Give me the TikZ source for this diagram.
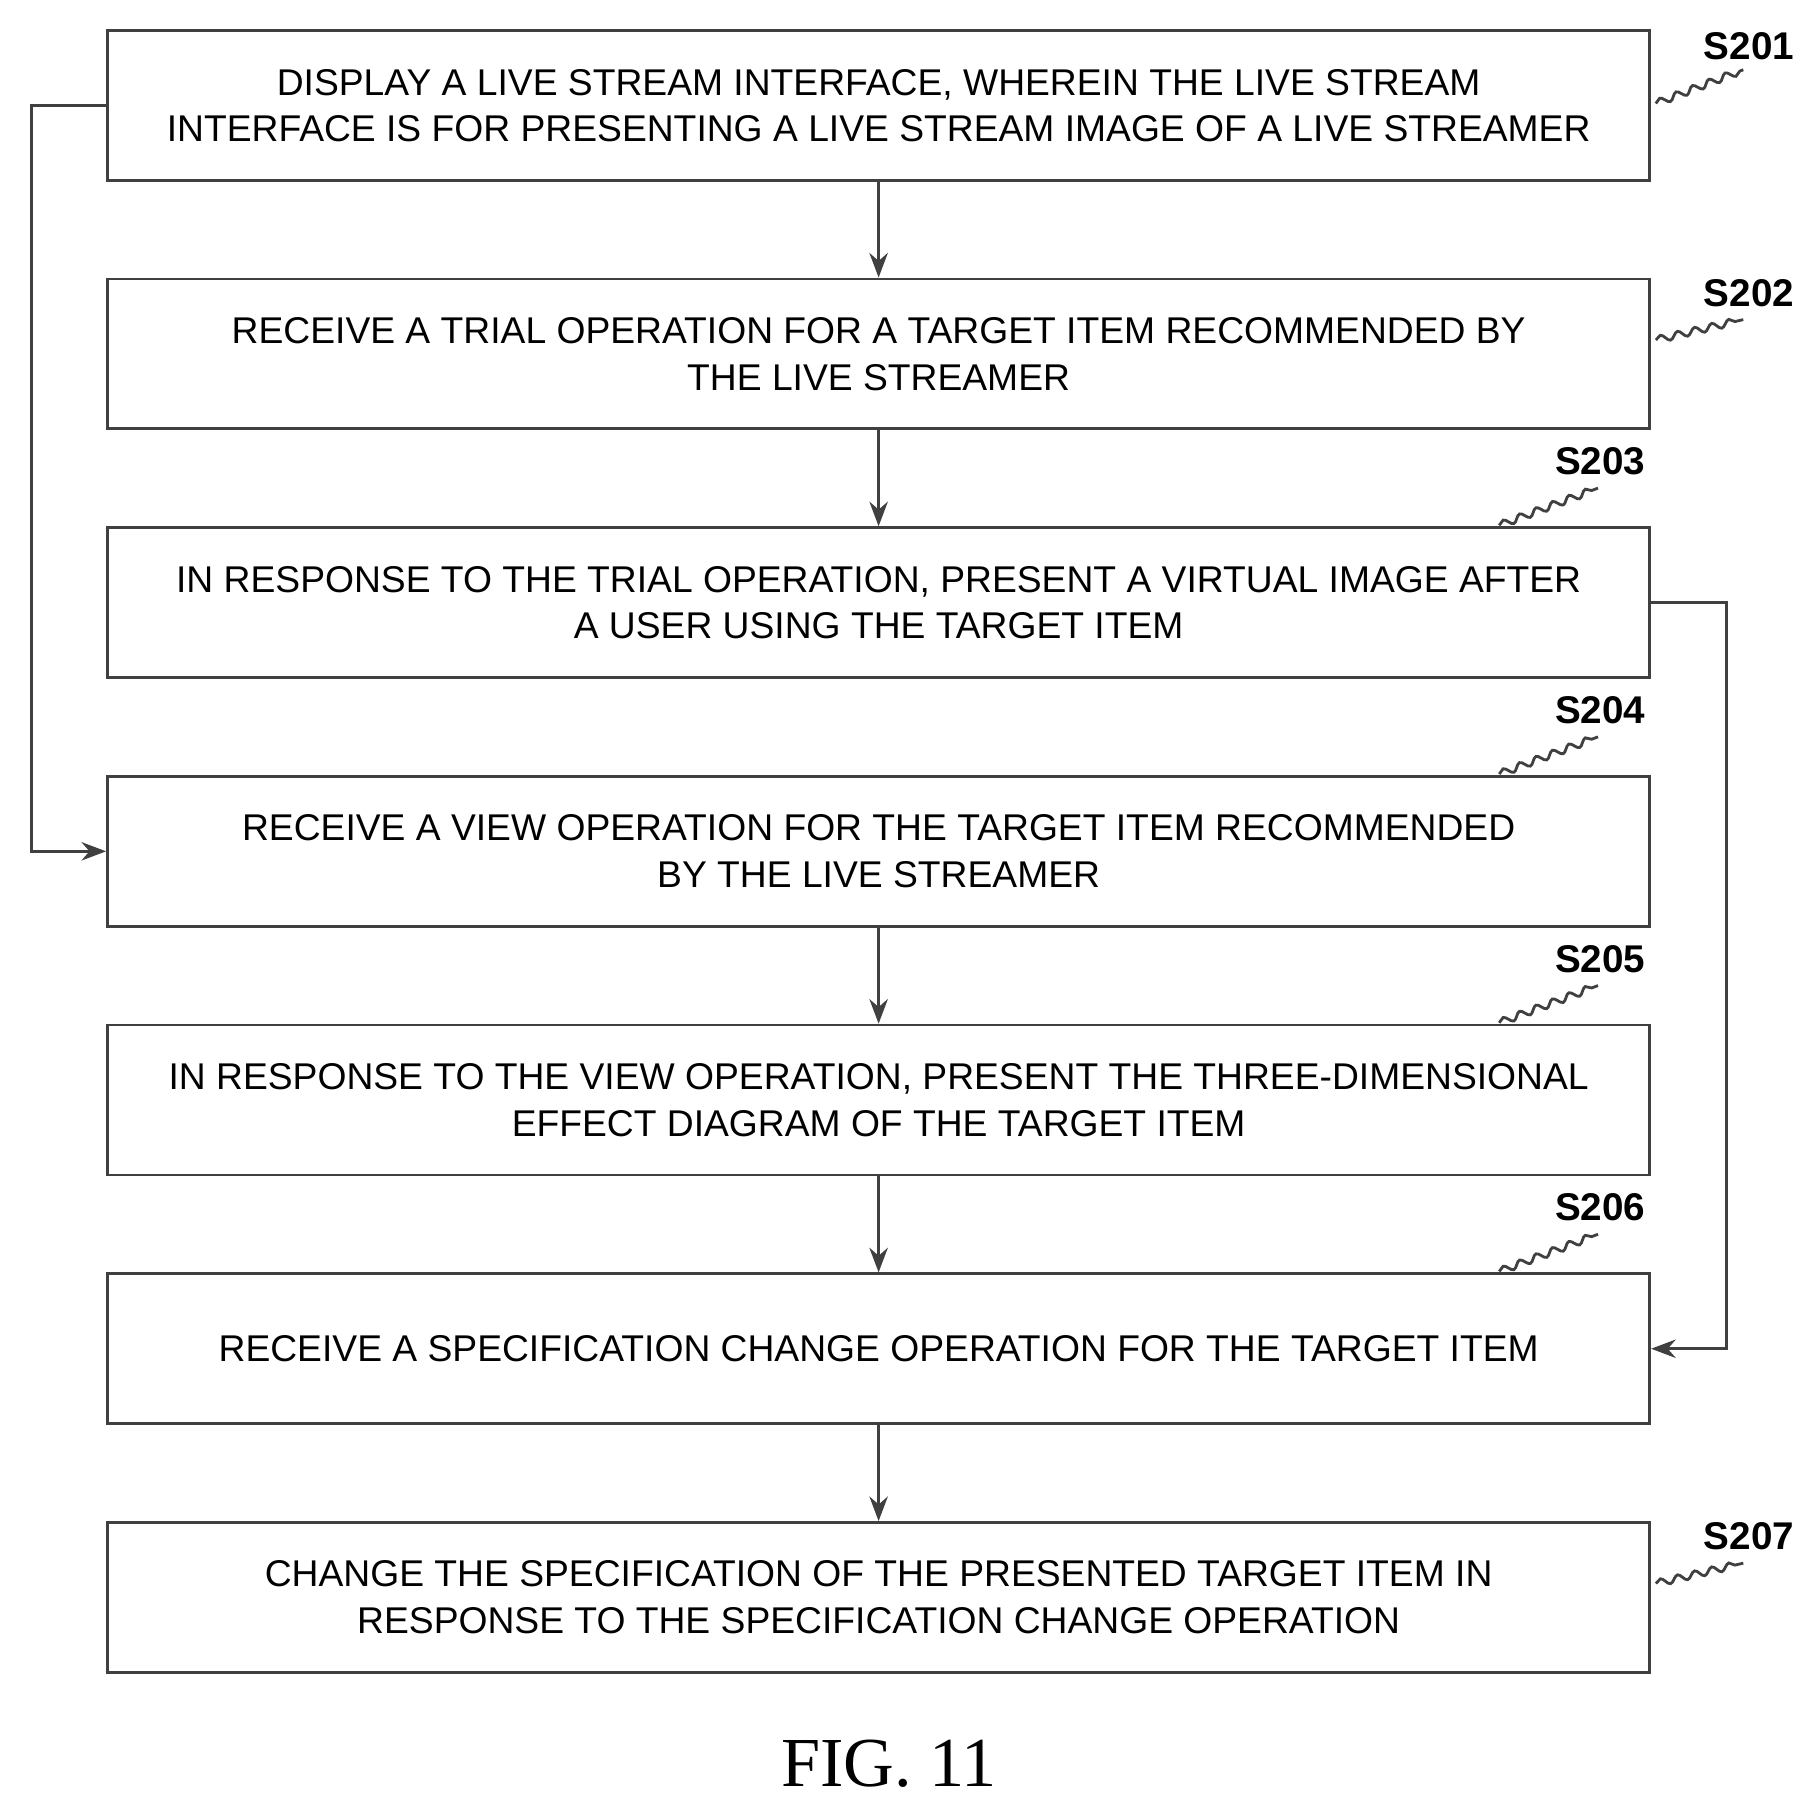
\documentclass[tikz,border=0pt]{standalone}
\usepackage{fontspec}
\setmainfont{Liberation Serif}
\setsansfont{Liberation Sans}
\usetikzlibrary{arrows.meta,decorations.pathmorphing}
\begin{document}
\begin{tikzpicture}[%
        x = 0.01162cm, y = -0.01162cm,
        line width = 0.8pt,
        > = {Stealth[length=7pt]},
        stepbox/.style = {draw = black!75, minimum width = 15.43cm,
            minimum height = 1.5cm, align = center, inner sep = 0pt,
            font = \sffamily\fontsize{10.6}{13.3}\selectfont},
        link/.style = {->, draw = black!75},
        tag/.style = {font = \sffamily\bfseries\fontsize{11}{13}\selectfont},
        wave/.style = {draw = black!75, decorate,
            decoration = {snake, amplitude = 1pt, segment length = 5pt}}
    ]
        \useasboundingbox (0, 0) rectangle (1560, 1547);

        % Steps of the flow.
        \node[stepbox] (s1) at (756, 91)
            {DISPLAY A LIVE STREAM INTERFACE, WHEREIN THE LIVE STREAM\\INTERFACE IS FOR PRESENTING A LIVE STREAM IMAGE OF A LIVE STREAMER};
        \node[stepbox] (s2) at (756, 304.5)
            {RECEIVE A TRIAL OPERATION FOR A TARGET ITEM RECOMMENDED BY\\THE LIVE STREAMER};
        \node[stepbox] (s3) at (756, 518.5)
            {IN RESPONSE TO THE TRIAL OPERATION, PRESENT A VIRTUAL IMAGE AFTER\\A USER USING THE TARGET ITEM};
        \node[stepbox] (s4) at (756, 732.5)
            {RECEIVE A VIEW OPERATION FOR THE TARGET ITEM RECOMMENDED\\BY THE LIVE STREAMER};
        \node[stepbox] (s5) at (756, 946.5)
            {IN RESPONSE TO THE VIEW OPERATION, PRESENT THE THREE-DIMENSIONAL\\EFFECT DIAGRAM OF THE TARGET ITEM};
        \node[stepbox] (s6) at (756, 1160.5)
            {RECEIVE A SPECIFICATION CHANGE OPERATION FOR THE TARGET ITEM};
        \node[stepbox] (s7) at (756, 1374.5)
            {CHANGE THE SPECIFICATION OF THE PRESENTED TARGET ITEM IN\\RESPONSE TO THE SPECIFICATION CHANGE OPERATION};

        % Connectors between the steps.
        \draw[link] (s1) -- (s2);
        \draw[link] (s2) -- (s3);
        \draw[link] (s4) -- (s5);
        \draw[link] (s5) -- (s6);
        \draw[link] (s6) -- (s7);
        \draw[link] (s1.west) -- ++(-64, 0) |- (s4.west);
        \draw[link] (s3.east) -- ++(65, 0) |- (s6.east);

        % Step labels with wavy leaders.
        \node[tag] (t1) at (1505, 40) {S201};
        \node[tag] (t2) at (1505, 252) {S202};
        \node[tag] (t3) at (1377, 397) {S203};
        \node[tag] (t4) at (1377, 611) {S204};
        \node[tag] (t5) at (1377, 825) {S205};
        \node[tag] (t6) at (1377, 1039) {S206};
        \node[tag] (t7) at (1505, 1322) {S207};
        \draw[wave] (s1.east) ++(4, -2) -- (1500, 60);
        \draw[wave] (s2.east) ++(4, -12) -- (1500, 275);
        \draw[wave] (1290, 452) -- (1375, 420);
        \draw[wave] (1290, 666) -- (1375, 634);
        \draw[wave] (1290, 880) -- (1375, 848);
        \draw[wave] (1290, 1094) -- (1375, 1062);
        \draw[wave] (s7.east) ++(4, -12) -- (1500, 1345);

        \node[font = \fontsize{20}{24}\selectfont] (cap) at (765, 1518) {FIG. 11};
    \end{tikzpicture}
\end{document}
